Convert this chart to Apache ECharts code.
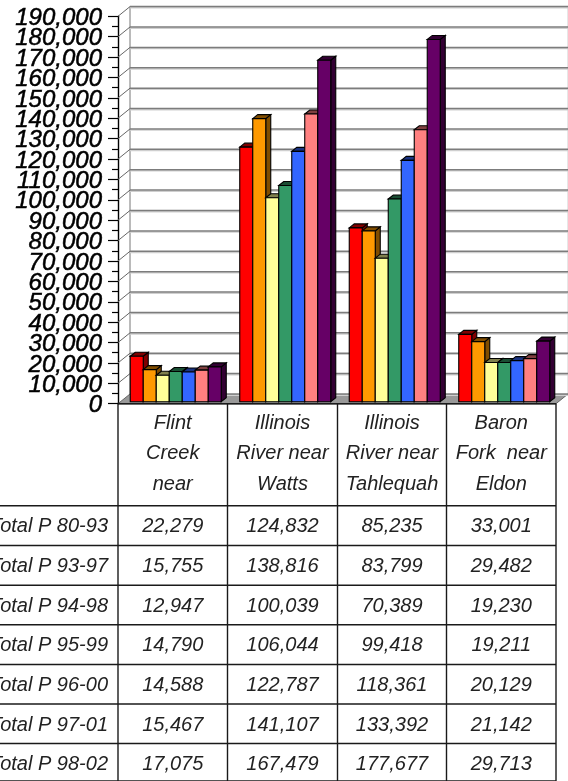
<!DOCTYPE html>
<html><head><meta charset="utf-8">
<style>html,body{margin:0;padding:0;background:#fff;overflow:hidden}#c{width:568px;height:781px;filter:blur(0.45px)}</style>
<script src="https://cdn.jsdelivr.net/npm/echarts@6/dist/echarts.min.js"></script>
</head><body><div id="c"></div>
<script>
const categories = [["Flint","Creek","near"],["Illinois","River near","Watts"],["Illinois","River near","Tahlequah"],["Baron","Fork  near","Eldon"]];
const seriesNames = ["Total P 80-93","Total P 93-97","Total P 94-98","Total P 95-99","Total P 96-00","Total P 97-01","Total P 98-02"];
const p8093 = [22279,124832,85235,33001];
const p9397 = [15755,138816,83799,29482];
const p9498 = [12947,100039,70389,19230];
const p9599 = [14790,106044,99418,19211];
const p9600 = [14588,122787,118361,20129];
const p9701 = [15467,141107,133392,21142];
const p9802 = [17075,167479,177677,29713];
const tickValues = [0,10000,20000,30000,40000,50000,60000,70000,80000,90000,100000,110000,120000,130000,140000,150000,160000,170000,180000,190000];
const seriesValues = [p8093,p9397,p9498,p9599,p9600,p9701,p9802];
const faceColors = ["#FF0000","#FF9900","#FFFF99","#339966","#3366FF","#FF8080","#660066"];
const sideColors = ["#800000","#804D00","#80804D","#1A4D33","#1A3380","#804040","#330033"];

const W=568,H=781,L=118,R=556,T=16.3,B=403.7;
const DX=12,DY=9.7, BW=13, BDX=5, BDY=4, BOX=3, BOY=2;
const edge={stroke:'#000',lineWidth:1.1};

function renderWall(params,api){
  const v=api.value(1);
  const y=api.coord([0,v])[1];
  return {type:'group',children:[
    {type:'line',silent:true,shape:{x1:L+DX,y1:y-DY+1.2,x2:R+DX+0.5,y2:y-DY+1.2},style:{stroke:'#cfcfcf',lineWidth:1.4}},
    {type:'line',silent:true,shape:{x1:L+DX,y1:y-DY,x2:R+DX+0.5,y2:y-DY},style:{stroke:'#7c7c7c',lineWidth:1.5}},
    {type:'line',silent:true,shape:{x1:L,y1:y,x2:L+DX,y2:y-DY},style:{stroke:'#666',lineWidth:1}},
    {type:'text',silent:true,style:{x:102,y:y+2,text:v.toLocaleString('en-US'),align:'right',verticalAlign:'middle',
      font:'italic 24px "Liberation Sans", Arial, sans-serif',fill:'#000',stroke:'#000',lineWidth:0.5}}
  ]};
}
function renderFrame(params,api){
  const y0=api.coord([0,0])[1], yt=api.coord([0,190000])[1];
  return {type:'group',children:[
    {type:'polygon',silent:true,shape:{points:[[L,y0],[L+DX,y0-DY],[R+DX,y0-DY],[R,y0]]},style:{fill:'#999'}},
    {type:'line',silent:true,shape:{x1:L+DX,y1:yt-DY,x2:L+DX,y2:y0-DY},style:{stroke:'#777',lineWidth:1}},
    {type:'line',silent:true,shape:{x1:R+DX+0.5,y1:yt-DY,x2:R+DX+0.5,y2:y0-DY},style:{stroke:'#888',lineWidth:1.4}},
    {type:'line',silent:true,shape:{x1:R,y1:y0,x2:R+DX,y2:y0-DY},style:{stroke:'#666',lineWidth:1}}
  ]};
}
function renderBar(params,api){
  const s=params.seriesIndex-2;
  const i=api.value(0);
  const top=api.coord([i,api.value(1)]);
  const base=api.coord([i,0]);
  const x=top[0]-3.5*BW+s*BW+BOX, yT=top[1]-BOY, yB=base[1]-BOY, w=BW;
  return {type:'group',children:[
    {type:'polygon',shape:{points:[[x+w,yT],[x+w+BDX,yT-BDY],[x+w+BDX,yB-BDY],[x+w,yB]]},style:{fill:sideColors[s],...edge}},
    {type:'polygon',shape:{points:[[x,yT],[x+BDX,yT-BDY],[x+w+BDX,yT-BDY],[x+w,yT]]},style:{fill:sideColors[s],...edge}},
    {type:'rect',shape:{x:x,y:yT,width:w,height:yB-yT},style:{fill:faceColors[s],...edge}}
  ]};
}

const series=[
  {type:'custom',name:'frame',data:[[0,0]],renderItem:renderFrame,silent:true,clip:false,z:1},
  {type:'custom',name:'wall',data:tickValues.map(v=>[0,v]),renderItem:renderWall,silent:true,clip:false,z:1}
];
seriesNames.forEach((n,s)=>series.push({type:'custom',name:n,renderItem:renderBar,clip:false,z:2,
  data:seriesValues[s].map((v,i)=>[i,v]),encode:{x:0,y:1}}));

// data table, built from the same arrays
const colX=[L,227.5,337.5,446.5,R];
const rowY=[505.7,545.5,585.2,624.8,664.5,704,743.5,781];
const tableFont='italic 20px "Liberation Sans", Arial, sans-serif';
const gfx=[];
const ln=(x1,y1,x2,y2)=>gfx.push({type:'line',silent:true,z:5,shape:{x1,y1,x2,y2},style:{stroke:'#1a1a1a',lineWidth:1.4}});
const tx=(x,y,t,a)=>gfx.push({type:'text',silent:true,z:5,x,y,style:{text:t,font:tableFont,fill:'#222',textAlign:a,textVerticalAlign:'middle'}});
colX.forEach(x=>ln(x,B,x,H));
ln(L,B,R,B);
rowY.forEach(y=>ln(0,y,R,y));
const hdrY=[423,453,484];
categories.forEach((lines,c)=>lines.forEach((t,k)=>tx((colX[c]+colX[c+1])/2,hdrY[k],t,'center')));
seriesNames.forEach((n,r)=>{
  const y=rowY[r]+21;
  tx(108,y,n,'right');
  seriesValues[r].forEach((v,c)=>tx((colX[c]+colX[c+1])/2,y,v.toLocaleString('en-US'),'center'));
});

const chart=echarts.init(document.getElementById('c'),null,{renderer:'canvas',width:W,height:H});
chart.setOption({
  animation:false,backgroundColor:'#fff',
  grid:{left:L,right:W-R,top:T,bottom:H-B,containLabel:false},
  xAxis:{type:'category',data:categories.map(c=>c.join(' ')),axisLine:{show:true,onZero:false,lineStyle:{color:'#000',width:1.4}},axisTick:{show:false},axisLabel:{show:false},splitLine:{show:false}},
  yAxis:{type:'value',min:0,max:190000,interval:10000,
    axisLine:{show:true,lineStyle:{color:'#000',width:1.4}},
    axisTick:{show:true,length:10,lineStyle:{color:'#000',width:1.2}},
    minorTick:{show:true,splitNumber:2,length:6,lineStyle:{color:'#000',width:1.2}},
    splitLine:{show:false},axisLabel:{show:false}},
  series,
  graphic:gfx
});
</script></body></html>
